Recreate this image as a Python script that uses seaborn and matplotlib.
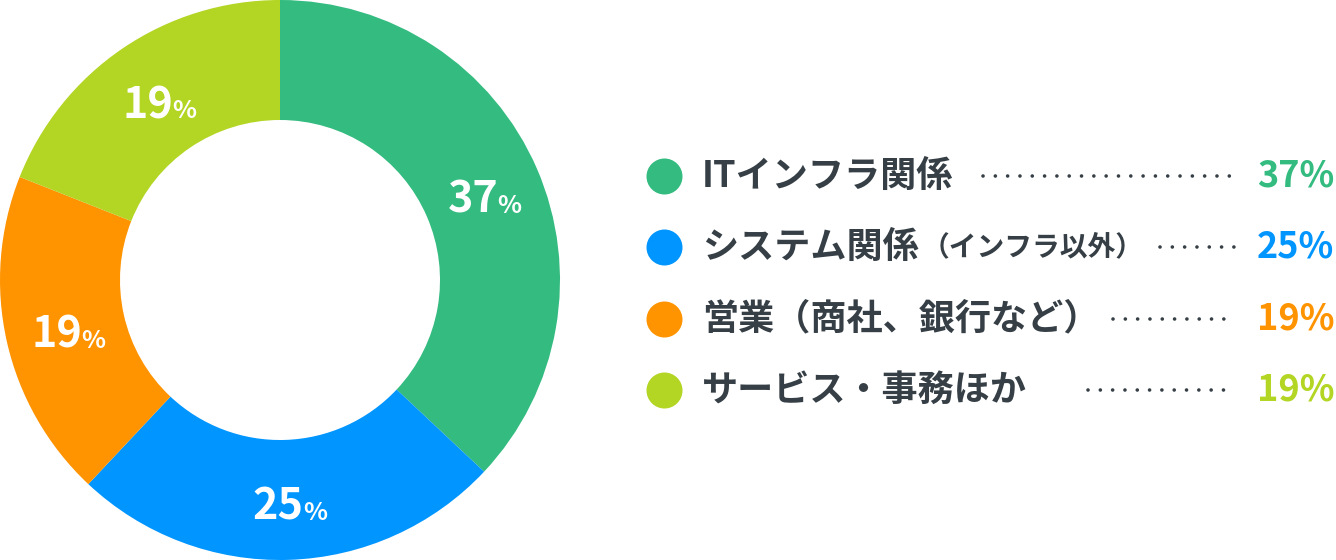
import matplotlib
matplotlib.use("Agg")
import matplotlib.pyplot as plt
import seaborn as sns
import numpy as np

# ---- data ----
categories = ["ITインフラ関係", "システム関係", "営業（商社、銀行など）", "サービス・事務ほか"]
category_notes = ["", "（インフラ以外）", "", ""]
shares = [37, 25, 19, 19]
colors = ["#33BB80", "#0095FF", "#FF9300", "#B3D523"]
dot_starts = [983, 1160, 1113, 1088]   # leader-dot start (px)

sns.set_theme(style="white")
plt.rcParams["font.family"] = ["Noto Sans CJK JP", "DejaVu Sans"]
TEXT = "#353F45"

W, H = 1336, 560
fig = plt.figure(figsize=(W / 100, H / 100), dpi=100)
fig.patch.set_facecolor("white")

# ---- donut ----
ax = fig.add_axes([0, 0, 560 / W, 1])
wedges, _ = ax.pie(shares, colors=colors, startangle=90, counterclock=False,
                   radius=1.0, wedgeprops=dict(width=120 / 280, linewidth=0))
ax.set_xlim(-1, 1)
ax.set_ylim(-1, 1)
ax.set_aspect("equal")
ax.axis("off")

px = 1 / 280.0
total = sum(shares)
cum = 0
for v in shares:
    mid = 90 - (cum + v / 2) / total * 360
    cum += v
    r = 0.785
    cx, cy = r * np.cos(np.radians(mid)), r * np.sin(np.radians(mid))
    base = cy - 20 * px
    ax.text(cx + 17 * px, base, f"{v}", ha="right", va="baseline",
            fontsize=31, fontweight="bold", color="white")
    ax.text(cx + 16 * px, base, "%", ha="left", va="baseline",
            fontsize=18, fontweight="bold", color="white")

# ---- legend ----
lg = fig.add_axes([0, 0, 1, 1])
lg.set_xlim(0, W)
lg.set_ylim(H, 0)
lg.axis("off")
lg.patch.set_alpha(0)

row0, step = 176, 71.3
for i, (cat, note, v, c) in enumerate(zip(categories, category_notes, shares, colors)):
    y = row0 + i * step
    lg.scatter([664], [y], s=(36 * 0.72) ** 2, color=c, linewidths=0)
    t = lg.text(702, y, cat, ha="left", va="center", fontsize=26,
                fontweight="bold", color=TEXT)
    if note:
        lg.annotate(note, xy=(1, 0.5), xycoords=t, xytext=(2, 0),
                    textcoords="offset points", ha="left", va="center",
                    fontsize=20, fontweight="bold", color=TEXT)
    lg.plot([dot_starts[i], 1234], [y, y], color=TEXT, lw=2.6,
            linestyle=(0, (0.01, 3.4)), dash_capstyle="round")
    lg.text(1334, y, f"{v}%", ha="right", va="center", fontsize=26,
            fontweight="bold", color=c)

fig.savefig("out.png", dpi=100, facecolor="white")
